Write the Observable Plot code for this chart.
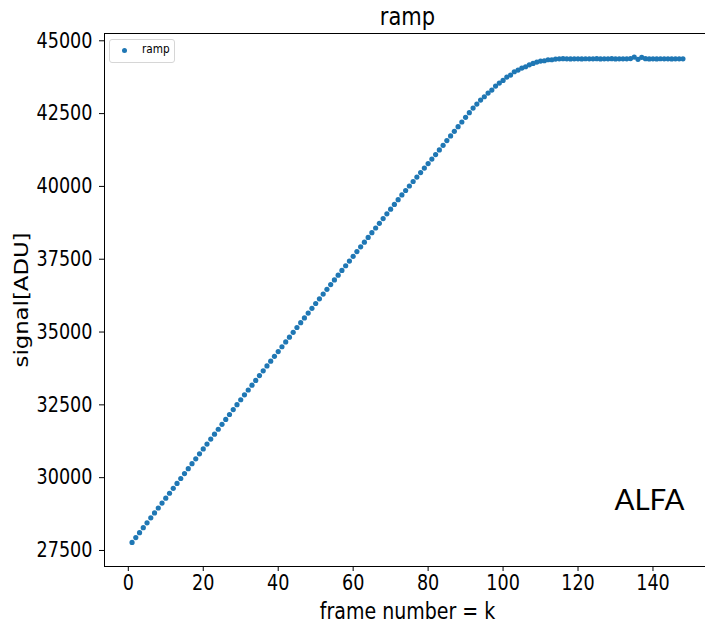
<!DOCTYPE html>
<html>
<head>
<meta charset="utf-8">
<script src="https://cdn.jsdelivr.net/npm/d3@7"></script>
<script src="https://cdn.jsdelivr.net/npm/@observablehq/plot@0.6"></script>
<style>
  html, body { margin: 0; padding: 0; background: #fff; overflow: hidden; }
  #wrap { position: relative; width: 705px; height: 623px; overflow: hidden; }
  #wrap svg { max-width: none !important; width: 720px; height: 623px; }
  #legend { position: absolute; left: 109px; top: 39px; width: 64px; height: 22px;
    border: 1px solid #d6d6d6; border-radius: 3px; background: rgba(255,255,255,0.8);
    font-family: "DejaVu Sans", sans-serif; font-size: 10.5px; color: #000; }
  #legend .dot { position: absolute; left: 12px; top: 8px; width: 5px; height: 5px; border-radius: 50%; background: #1f77b4; }
  #legend .lab { position: absolute; left: 32px; top: 2px; transform: scaleY(1.2); transform-origin: 0 50%; }
</style>
</head>
<body>
<div id="wrap"></div>
<script>
const frames = [1,2,3,4,5,6,7,8,9,10,11,12,13,14,15,16,17,18,19,20,21,22,23,24,25,26,27,28,29,30,
31,32,33,34,35,36,37,38,39,40,41,42,43,44,45,46,47,48,49,50,51,52,53,54,55,56,57,58,59,60,
61,62,63,64,65,66,67,68,69,70,71,72,73,74,75,76,77,78,79,80,81,82,83,84,85,86,87,88,89,90,
91,92,93,94,95,96,97,98,99,100,101,102,103,104,105,106,107,108,109,110,111,112,113,114,115,116,117,118,119,120,
121,122,123,124,125,126,127,128,129,130,131,132,133,134,135,136,137,138,139,140,141,142,143,144,145,146,147,148];

const signal = [27775,27944,28113,28282,28451,28620,28789,28958,29127,29296,
29465,29634,29803,29972,30141,30310,30479,30648,30817,30986,
31155,31324,31493,31662,31831,32000,32169,32338,32507,32676,
32845,33010,33175,33340,33505,33670,33835,34000,34165,34330,
34495,34660,34825,34990,35155,35320,35485,35650,35815,35980,
36142,36304,36466,36628,36790,36952,37114,37276,37438,37600,
37762,37924,38086,38248,38410,38572,38734,38896,39058,39220,
39382,39544,39706,39860,40014,40168,40322,40476,40630,40784,
40938,41092,41252,41412,41572,41732,41892,42052,42212,42372,
42532,42690,42827,42965,43078,43205,43308,43446,43548,43638,
43754,43823,43936,43994,44063,44108,44176,44221,44269,44303,
44314,44348,44348,44372,44380,44385,44380,44378,44382,44380,
44376,44383,44380,44379,44384,44377,44381,44380,44386,44378,
44382,44379,44381,44388,44440,44365,44432,44384,44376,44380,
44378,44383,44379,44381,44377,44380,44382,44379];

const xTicks = [0,20,40,60,80,100,120,140];
const yTicks = [27500,30000,32500,35000,37500,40000,42500,45000];

const data = frames.map((k, i) => ({k, v: signal[i]}));

const font = "DejaVu Sans, sans-serif";

const chart = Plot.plot({
  width: 720,
  height: 623,
  marginLeft: 104,
  marginRight: 10,
  marginTop: 33,
  marginBottom: 57,
  style: {fontFamily: font, fontSize: "17.6px", color: "#000", background: "#fff", overflow: "visible", maxWidth: "none"},
  x: {domain: [-6.35, 155.35]},
  y: {domain: [26950, 45250]},
  marks: [
    Plot.axisX({ticks: xTicks, tickSize: 5, tickPadding: 3, fontSize: 17.6, label: null, tickFormat: d => String(d)}),
    Plot.axisY({ticks: yTicks, tickSize: 5, tickPadding: 7, fontSize: 17.6, label: null, tickFormat: d => String(d)}),
    Plot.dot(data, {x: "k", y: "v", r: 2.6, fill: "#1f77b4", stroke: null}),
    Plot.frame({stroke: "#000", strokeWidth: 1}),
    Plot.text(["ramp"], {frameAnchor: "top", lineAnchor: "bottom", dy: -9, fontSize: 21, fill: "#000"}),
    Plot.text(["frame number = k"], {frameAnchor: "bottom", lineAnchor: "bottom", dy: 52, fontSize: 19, fill: "#000"}),
    Plot.text(["signal[ADU]"], {frameAnchor: "left", textAnchor: "middle", lineAnchor: "bottom", rotate: -90, dx: -77, fontSize: 19, fill: "#000"}),
    Plot.text(["ALFA"], {frameAnchor: "bottom-right", textAnchor: "end", lineAnchor: "bottom", dx: -26, dy: -57, fontSize: 29.5, fontFamily: "Lato, sans-serif", fill: "#000"})
  ]
});

// the reference's lettering is stretched vertically by about 1.2
const stretch = 1.2;
chart.querySelectorAll("text").forEach(el => {
  const txt = el.textContent;
  if (txt === "ALFA") return;
  let t = el.getAttribute("transform");
  if (!t) {
    const x = +el.getAttribute("x") || 0, y = +el.getAttribute("y") || 0;
    el.removeAttribute("x"); el.removeAttribute("y");
    t = `translate(${x},${y})`;
  }
  el.setAttribute("transform", t + (txt === "signal[ADU]" ? ` scale(${stretch},1)` : ` scale(1,${stretch})`));
});

const wrap = document.getElementById("wrap");
wrap.appendChild(chart);
const legend = document.createElement("div");
legend.id = "legend";
legend.innerHTML = '<div class="dot"></div><div class="lab">ramp</div>';
wrap.appendChild(legend);
</script>
</body>
</html>
